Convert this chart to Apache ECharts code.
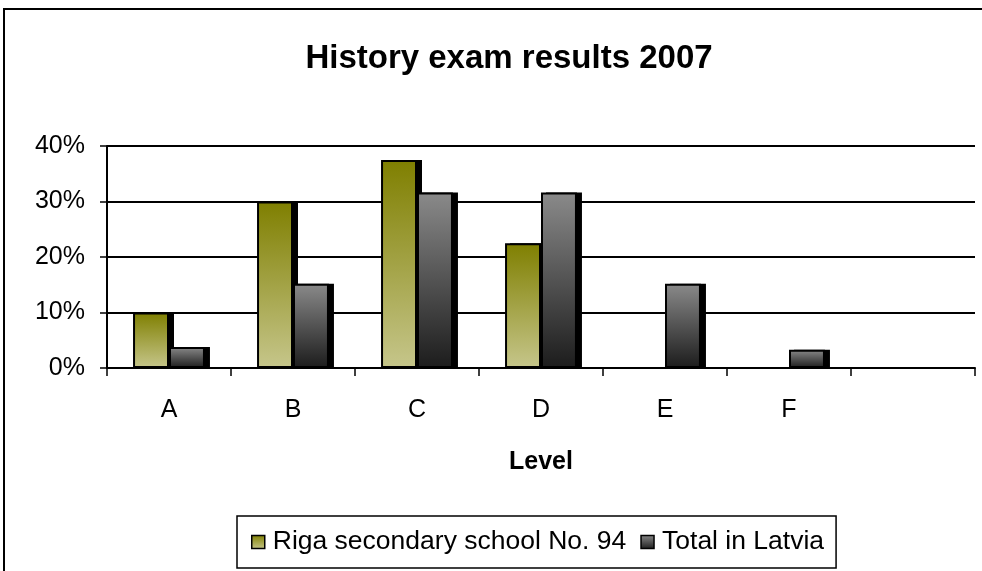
<!DOCTYPE html>
<html>
<head>
<meta charset="utf-8">
<script src="https://cdn.jsdelivr.net/npm/echarts@6/dist/echarts.min.js"></script>
<style>
    html, body { margin: 0; padding: 0; background: #fff; }
    #main { width: 982px; height: 571px; }
</style>
</head>
<body>
<div id="main"></div>
<script>
let levels = ['A', 'B', 'C', 'D', 'E', 'F', ''];
let rigaValues = [10, 30, 37.5, 22.5, 0, 0, null];
let latviaValues = [3.8, 15.2, 31.6, 31.6, 15.2, 3.3, null];
let seriesNames = ['Riga secondary school No. 94', 'Total in Latvia'];
let yTicks = [0, 10, 20, 30, 40];

let font = 'Liberation Sans, Arial, sans-serif';

// 阴影：第二个 grid 向右下偏移几像素，只画黑色柱子
let shadowDx = 5;
let shadowDy = 3;
let plot = {left: 107, right: 7, top: 146, bottom: 203};
let plotHeight = 571 - plot.top - plot.bottom;

// 基于准备好的dom，初始化echarts实例
let myChart = echarts.init(document.getElementById('main'));

function grad(top, bottom) {
    return new echarts.graphic.LinearGradient(0, 0, 0, 1, [
        {offset: 0, color: top},
        {offset: 1, color: bottom}
    ]);
}

// 0% 的柱子不画出来
function barData(values) {
    return values.map(function (v) {
        return v === 0 ? '-' : v;
    });
}

function mainBar(name, values, color) {
    return {
        name: name,
        type: 'bar',
        data: barData(values),
        barGap: '0%',
        barCategoryGap: '42%',
        z: 3,
        itemStyle: {color: color, borderColor: '#000', borderWidth: 2}
    };
}

function shadowBar(values) {
    return {
        type: 'bar',
        xAxisIndex: 1,
        yAxisIndex: 1,
        data: barData(values),
        barGap: '0%',
        barCategoryGap: '42%',
        z: 1,
        silent: true,
        itemStyle: {color: '#000'}
    };
}

let hiddenAxis = {show: false};

let option = {
    backgroundColor: '#fff',
    animation: false,
    title: {
        text: 'History exam results 2007',
        left: 504,
        top: 37,
        textAlign: 'center',
        textStyle: {fontFamily: font, fontSize: 33, fontWeight: 'bold', color: '#000'}
    },
    graphic: [{
        type: 'rect',
        shape: {x: 4, y: 9, width: 1100, height: 700},
        style: {fill: 'none', stroke: '#000', lineWidth: 2},
        silent: true
    }],
    legend: {
        left: 237,
        top: 516,
        padding: [11, 12, 11, 14],
        itemWidth: 13,
        itemHeight: 13,
        itemGap: 14,
        icon: 'rect',
        borderColor: '#000',
        borderWidth: 1.5,
        itemStyle: {borderWidth: 1.5},
        textStyle: {fontFamily: font, fontSize: 26.5, color: '#000', lineHeight: 30, padding: [0, 0, 0, 3]},
        data: seriesNames
    },
    grid: [
        {left: plot.left, right: plot.right, top: plot.top, bottom: plot.bottom},
        {left: plot.left + shadowDx, right: plot.right - shadowDx, top: plot.top + shadowDy, bottom: plot.bottom}
    ],
    xAxis: [{
        type: 'category',
        data: levels,
        z: 5,
        name: 'Level',
        nameLocation: 'middle',
        nameGap: 82,
        nameTextStyle: {fontFamily: font, fontSize: 25, fontWeight: 'bold', color: '#000'},
        axisLine: {lineStyle: {color: '#000', width: 2}},
        axisTick: {show: true, interval: 0, length: 8, lineStyle: {color: '#000', width: 1.5}},
        axisLabel: {fontFamily: font, fontSize: 25, color: '#000', margin: 30, interval: 0}
    }, Object.assign({type: 'category', data: levels, gridIndex: 1}, hiddenAxis)],
    yAxis: [{
        type: 'value',
        min: yTicks[0],
        max: yTicks[yTicks.length - 1],
        interval: 10,
        axisLine: {show: true, lineStyle: {color: '#000', width: 2}},
        axisTick: {show: true, length: 7, lineStyle: {color: '#000', width: 1.5}},
        axisLabel: {fontFamily: font, fontSize: 25, color: '#000', margin: 22, formatter: '{value}%'},
        splitLine: {lineStyle: {color: '#000', width: 2}}
    }, Object.assign({
        type: 'value',
        gridIndex: 1,
        min: yTicks[0],
        // 同样的像素比例，底部对齐
        max: yTicks[yTicks.length - 1] * (plotHeight - shadowDy) / plotHeight
    }, hiddenAxis)],
    series: [
        shadowBar(rigaValues),
        shadowBar(latviaValues),
        mainBar(seriesNames[0], rigaValues, grad('#7f7f00', '#c6c68b')),
        mainBar(seriesNames[1], latviaValues, grad('#8a8a8a', '#1c1c1c'))
    ]
};
// 使用刚指定的配置项和数据显示图表。
myChart.setOption(option);
</script>
</body>
</html>
